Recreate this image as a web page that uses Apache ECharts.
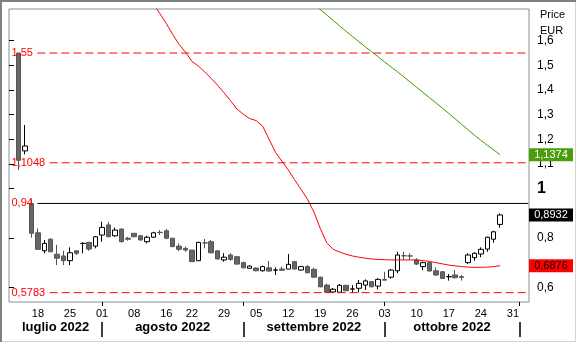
<!DOCTYPE html>
<html><head><meta charset="utf-8">
<script src="https://cdn.jsdelivr.net/npm/echarts@6/dist/echarts.min.js"></script>
<style>html,body{margin:0;padding:0;background:#fff}#c{width:577px;height:343px}</style>
</head><body><div id="c"></div>
<script>
// ---- categories: trading days (first and last few are empty slots) ----
const dates = [
 '2022-07-12','2022-07-13','2022-07-14','2022-07-15','2022-07-18','2022-07-19','2022-07-20','2022-07-21','2022-07-22',
 '2022-07-25','2022-07-26','2022-07-27','2022-07-28','2022-07-29',
 '2022-08-01','2022-08-02','2022-08-03','2022-08-04','2022-08-05','2022-08-08','2022-08-09','2022-08-10','2022-08-11','2022-08-12',
 '2022-08-16','2022-08-17','2022-08-18','2022-08-19','2022-08-22','2022-08-23','2022-08-24','2022-08-25','2022-08-26',
 '2022-08-29','2022-08-30','2022-08-31',
 '2022-09-01','2022-09-02','2022-09-05','2022-09-06','2022-09-07','2022-09-08','2022-09-09','2022-09-12','2022-09-13',
 '2022-09-14','2022-09-15','2022-09-16','2022-09-19','2022-09-20','2022-09-21','2022-09-22','2022-09-23','2022-09-26',
 '2022-09-27','2022-09-28','2022-09-29','2022-09-30',
 '2022-10-03','2022-10-04','2022-10-05','2022-10-06','2022-10-07','2022-10-10','2022-10-11','2022-10-12','2022-10-13',
 '2022-10-14','2022-10-17','2022-10-18','2022-10-19','2022-10-20','2022-10-21','2022-10-24','2022-10-25','2022-10-26',
 '2022-10-27','2022-10-28','2022-10-31',
 '2022-11-01','2022-11-02'
];
// ---- price candles [open, close, low, high], from candleStart ----
const candleStart = '2022-07-13';
const ohlc = [
 [1.55,1.115,1.075,1.55],[1.153,1.173,1.139,1.258],[0.94,0.819,0.801,0.957],[0.821,0.754,0.754,0.839],
 [0.748,0.778,0.738,0.792],[0.795,0.744,0.744,0.799],[0.734,0.718,0.690,0.772],[0.727,0.708,0.690,0.748],
 [0.708,0.740,0.690,0.762],[0.748,0.738,0.731,0.748],[0.778,0.778,0.738,0.782],[0.782,0.755,0.748,0.785],
 [0.767,0.805,0.758,0.808],[0.812,0.843,0.785,0.866],[0.853,0.805,0.803,0.866],[0.809,0.832,0.805,0.842],
 [0.836,0.785,0.782,0.839],[0.799,0.795,0.789,0.805],[0.819,0.805,0.803,0.819],[0.809,0.792,0.789,0.812],
 [0.785,0.803,0.778,0.809],[0.803,0.821,0.801,0.825],[0.823,0.822,0.812,0.832],[0.829,0.799,0.795,0.836],
 [0.799,0.765,0.763,0.799],[0.767,0.754,0.747,0.778],[0.758,0.751,0.744,0.765],[0.751,0.704,0.704,0.751],
 [0.708,0.782,0.706,0.785],[0.780,0.780,0.758,0.796],[0.785,0.740,0.738,0.792],[0.748,0.715,0.713,0.750],
 [0.711,0.722,0.704,0.738],[0.731,0.713,0.708,0.738],[0.724,0.694,0.692,0.727],[0.700,0.679,0.677,0.704],
 [0.677,0.686,0.675,0.689],[0.678,0.667,0.665,0.680],[0.667,0.684,0.664,0.688],[0.679,0.666,0.664,0.707],
 [0.670,0.670,0.650,0.681],[0.674,0.669,0.668,0.684],[0.674,0.693,0.674,0.735],[0.704,0.674,0.672,0.707],
 [0.670,0.684,0.668,0.687],[0.684,0.659,0.657,0.690],[0.673,0.641,0.640,0.680],[0.641,0.602,0.600,0.643],
 [0.609,0.580,0.578,0.615],[0.581,0.592,0.5783,0.597],[0.580,0.608,0.579,0.613],[0.608,0.586,0.585,0.608],
 [0.593,0.593,0.5783,0.609],[0.596,0.616,0.5795,0.630],[0.609,0.626,0.589,0.632],[0.623,0.602,0.600,0.625],
 [0.605,0.632,0.592,0.637],[0.632,0.629,0.629,0.663],[0.641,0.670,0.635,0.674],[0.667,0.731,0.657,0.744],
 [0.728,0.728,0.711,0.744],[0.727,0.727,0.711,0.738],[0.711,0.694,0.690,0.718],[0.684,0.700,0.670,0.704],
 [0.700,0.666,0.664,0.703],[0.667,0.650,0.646,0.681],[0.663,0.636,0.634,0.665],[0.643,0.643,0.627,0.654],
 [0.650,0.639,0.636,0.670],[0.643,0.640,0.627,0.650],[0.700,0.731,0.694,0.738],[0.720,0.738,0.708,0.742],
 [0.735,0.754,0.722,0.762],[0.755,0.803,0.744,0.805],[0.795,0.825,0.781,0.829],[0.855,0.8932,0.842,0.900]
];
// ---- moving averages ----
const maRedStart = '2022-08-09';
const maRed = [1.83,1.79,1.75,1.71,1.670,1.625,1.585,1.553,1.516,1.497,1.473,1.447,1.419,1.389,1.357,1.323,1.302,
 1.284,1.276,1.254,1.201,1.148,1.112,1.076,1.036,0.997,0.957,0.905,0.838,0.780,0.754,0.743,0.734,0.727,0.722,
 0.718,0.715,0.713,0.712,0.711,0.711,0.711,0.711,0.711,0.708,0.705,0.700,0.695,0.690,0.687,0.684,0.682,0.681,
 0.681,0.682,0.684,0.6876];
const maGreenStart = '2022-09-16';
const maGreen = [1.75,1.726,1.704,1.682,1.660,1.638,1.617,1.596,1.575,1.555,1.535,1.514,1.494,1.474,1.453,1.432,
 1.411,1.390,1.369,1.348,1.327,1.305,1.283,1.261,1.239,1.217,1.196,1.176,1.157,1.1374];
// ---- reference levels and axis ticks ----
const refLevels = [1.55, 1.1048, 0.94, 0.5783];
const refSolid = [false, false, true, false];
const yTicks = [0.6, 0.8, 1, 1.1, 1.2, 1.3, 1.4, 1.5, 1.6];
const monthNames = ['gennaio','febbraio','marzo','aprile','maggio','giugno','luglio','agosto','settembre','ottobre','novembre','dicembre'];

const FONT = 'Liberation Sans, Arial, sans-serif';
const GRID = { left: 9, right: 48, top: 9, bottom: 41 };
const W = 577, H = 343;
const fmt = v => String(v).replace('.', ',');
function pad(arr, start) {
  const s = dates.indexOf(start);
  return dates.map((d, i) => (i >= s && i - s < arr.length) ? arr[i - s] : '-');
}
const candleData = pad(ohlc, candleStart).map(v => v === '-' ? ['-','-','-','-'] : v);
const redData = pad(maRed, maRedStart);
const greenData = pad(maGreen, maGreenStart);
const lastClose = ohlc[ohlc.length - 1][1];
const lastRed = maRed[maRed.length - 1];
const lastGreen = maGreen[maGreen.length - 1];

const dow = s => new Date(s + 'T00:00:00Z').getUTCDay();
const mon = s => +s.slice(5, 7);
const weekStart = i => i > 0 && dow(dates[i]) < dow(dates[i - 1]);
const monthStart = i => i > 0 && mon(dates[i]) !== mon(dates[i - 1]);

// month separators / label centres on a value axis spanning the category bands
const sepVals = [], monthLabelVals = [], monthLabelText = [];
let prev = 0, prevMonth = mon(dates[0]);
dates.forEach((d, i) => {
  if (monthStart(i)) {
    sepVals.push(i + 0.5);
    monthLabelVals.push((prev + i + 0.5) / 2);
    monthLabelText.push(monthNames[prevMonth - 1] + ' ' + d.slice(0, 4));
    prev = i + 0.5; prevMonth = mon(d);
  }
});

// reference lines: drawn as line series on the band axis, starting right after their caption
const cv = document.createElement('canvas').getContext('2d');
cv.font = '11px ' + FONT;
const gridW = W - GRID.left - GRID.right;
const refLineSeries = refLevels.map((v, k) => {
  const startPx = 11 + cv.measureText(fmt(v)).width + 5;
  const startVal = (startPx - GRID.left) * dates.length / gridW;
  return {
    type: 'line', xAxisIndex: 1, silent: true, z: 4,
    symbol: 'rect', symbolSize: 1, showSymbol: true,
    itemStyle: { color: 'rgba(0,0,0,0)' },
    lineStyle: refSolid[k] ? { color: '#000000', type: 'solid', width: 1 } : { color: '#ff0000', type: [8, 4], width: 1 },
    data: [
      { value: [startVal, v], label: { show: true, position: 'left', distance: 4, formatter: fmt(v), color: '#ff0000', fontSize: 11, fontFamily: FONT } },
      { value: [dates.length - 0.1, v] }
    ]
  };
});

const chart = echarts.init(document.getElementById('c'), null, { renderer: 'canvas' });
chart.setOption({
  animation: false,
  backgroundColor: '#fff',
  textStyle: { fontFamily: FONT },
  title: {
    text: 'Price\nEUR', left: 535, top: 2,
    textStyle: { fontSize: 11, fontWeight: 'normal', color: '#000', lineHeight: 16, fontFamily: FONT }
  },
  graphic: [
    { type: 'polyline', silent: true, shape: { points: [[1, 342], [1, 1], [576, 1]] }, style: { stroke: '#808080', lineWidth: 2, fill: null } },
    { type: 'polyline', silent: true, shape: { points: [[2, 341.5], [575.5, 341.5], [575.5, 2]] }, style: { stroke: '#d4d4d4', lineWidth: 1, fill: null } }
  ],
  grid: Object.assign({ show: true, borderColor: '#8c8c9c', borderWidth: 1, backgroundColor: '#fff' }, GRID),
  xAxis: [{
    type: 'category', data: dates, boundaryGap: true,
    axisLine: { show: false },
    axisTick: { show: true, alignWithLabel: true, interval: (i) => monthStart(i), length: 4, lineStyle: { color: '#000' } },
    axisLabel: { interval: (i) => weekStart(i), formatter: v => v.slice(8), fontSize: 11, color: '#000', margin: 6, fontFamily: FONT },
    splitLine: { show: false }
  }, {
    type: 'value', min: 0, max: dates.length, position: 'bottom', offset: 20,
    axisLine: { show: false }, splitLine: { show: false },
    axisTick: { show: true, customValues: sepVals, length: 15, lineStyle: { color: '#000', width: 1.5 } },
    axisLabel: {
      customValues: monthLabelVals,
      formatter: v => { const k = monthLabelVals.findIndex(m => Math.abs(m - v) < 1e-6); return k >= 0 ? monthLabelText[k] : ''; },
      fontSize: 13, fontWeight: 'bold', color: '#000', margin: -1, fontFamily: FONT
    }
  }],
  yAxis: {
    type: 'value', position: 'right', min: 0.5404, max: 1.7285,
    axisLine: { show: false }, splitLine: { show: false },
    axisTick: { show: true, customValues: yTicks, length: 5, lineStyle: { color: '#000' } },
    axisLabel: {
      customValues: yTicks, margin: 8, fontSize: 12, color: '#000', fontFamily: FONT,
      formatter: v => Math.abs(v - 1) < 1e-9 ? '{b|1}' : '{n|' + fmt(v.toFixed(1)) + '}',
      rich: { b: { fontSize: 16, fontWeight: 'bold', color: '#000', fontFamily: FONT }, n: { fontSize: 12, color: '#000', fontFamily: FONT } }
    }
  },
  series: [{
    type: 'candlestick', name: 'Price', data: candleData, barWidth: 5,
    itemStyle: { color: '#ffffff', color0: '#666666', borderColor: '#000000', borderColor0: '#555555', borderWidth: 1 },
    markPoint: {
      silent: true, animation: false,
      data: [{ x: 551, yAxis: lastClose, symbol: 'rect', symbolSize: [44, 13], itemStyle: { color: '#000' },
        label: { show: true, position: 'inside', formatter: fmt(lastClose), color: '#fff', fontSize: 11, fontFamily: FONT } }]
    }
  }, {
    type: 'line', name: 'MA rossa', data: redData, showSymbol: false, symbol: 'none',
    lineStyle: { color: '#ff0000', width: 1 }, itemStyle: { color: '#ff0000' }, z: 3,
    markPoint: {
      silent: true, animation: false,
      data: [{ x: 551, yAxis: lastRed, symbol: 'rect', symbolSize: [44, 13], itemStyle: { color: '#ff0000' },
        label: { show: true, position: 'inside', formatter: fmt(lastRed), color: '#000', fontSize: 11, fontFamily: FONT } }]
    }
  }, {
    type: 'line', name: 'MA verde', data: greenData, showSymbol: false, symbol: 'none',
    lineStyle: { color: '#3c9c00', width: 1 }, itemStyle: { color: '#3c9c00' }, z: 3,
    markPoint: {
      silent: true, animation: false,
      data: [{ x: 551, yAxis: lastGreen, symbol: 'rect', symbolSize: [44, 13], itemStyle: { color: '#4a9e0c' },
        label: { show: true, position: 'inside', formatter: fmt(lastGreen), color: '#fff', fontSize: 11, fontFamily: FONT } }]
    }
  }].concat(refLineSeries)
});
</script>
</body></html>
